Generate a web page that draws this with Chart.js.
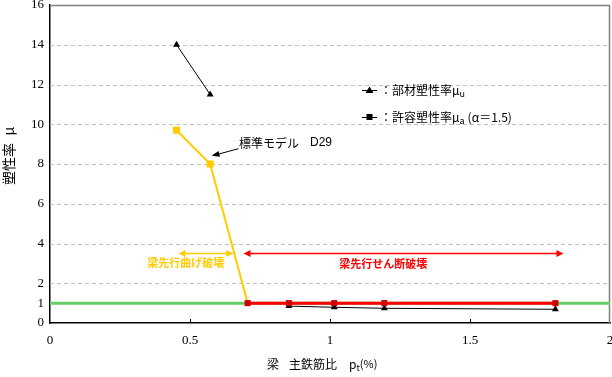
<!DOCTYPE html>
<html><head><meta charset="utf-8">
<script src="https://cdn.jsdelivr.net/npm/chart.js@4/dist/chart.umd.min.js"></script>
<style>html,body{margin:0;padding:0;background:#fff;}#c{display:block;}</style>
</head><body>
<canvas id="c" width="612" height="377"></canvas>
<script>
// ---- data ----
const pt      = [0.452, 0.572, 0.706, 0.853, 1.015, 1.194, 1.805];   // 梁 主鉄筋比 pt(%)
const muU     = [14.0, 11.5, null, 0.85, 0.79, 0.74, 0.69];          // 部材塑性率 μu
const muA     = [9.7, 8.0, 1.0, 1.0, 1.0, 1.0, 1.0];                 // 許容塑性率 μa (α=1.5)
const limitX  = [0, 2];
const limitY  = [1, 1];                                              // μ = 1 line
const xTicks  = [0, 0.5, 1, 1.5, 2];
const yTicks  = [0, 1, 2, 4, 6, 8, 10, 12, 14, 16];
const gridY   = [2, 4, 6, 8, 10, 12, 14];

const YEL = '#FFCC00', RED = '#FF0000', DRED = '#CC0000', GRN = '#66CC66';
const JP = '"Noto Sans CJK JP", sans-serif';
const SERIF = '"Liberation Serif", serif';

const pts = (xs, ys) => xs.map((x, i) => ({x, y: ys[i]}));

const bgPlugin = {
  id: 'bg',
  beforeDatasetsDraw(chart) {
    const {ctx, chartArea: a, scales: {x, y}} = chart;
    ctx.save();
    ctx.strokeStyle = '#C0C0C0'; ctx.lineWidth = 1; ctx.setLineDash([4, 3]);
    gridY.forEach(v => {
      const py = Math.round(y.getPixelForValue(v)) + 0.5;
      ctx.beginPath(); ctx.moveTo(a.left, py); ctx.lineTo(a.right, py); ctx.stroke();
    });
    ctx.setLineDash([]);
    ctx.strokeStyle = '#808080'; ctx.lineWidth = 1.5;
    ctx.beginPath();
    ctx.moveTo(a.left, a.top + 0.5); ctx.lineTo(a.right - 0.5, a.top + 0.5); ctx.lineTo(a.right - 0.5, a.bottom);
    ctx.stroke();
    ctx.restore();
  },
  afterDatasetsDraw(chart) {
    const {ctx, chartArea: a, scales: {x, y}} = chart;
    ctx.save();
    // inward x ticks
    ctx.strokeStyle = '#000'; ctx.lineWidth = 1;
    xTicks.slice(1, -1).forEach(v => {
      const px = Math.round(x.getPixelForValue(v)) + 0.5;
      ctx.beginPath(); ctx.moveTo(px, a.bottom); ctx.lineTo(px, a.bottom - 4); ctx.stroke();
    });
    const arrowHead = (tx, ty, fx, fy, col, len, wid) => {
      const ang = Math.atan2(ty - fy, tx - fx);
      ctx.fillStyle = col;
      ctx.beginPath();
      ctx.moveTo(tx, ty);
      ctx.lineTo(tx - len * Math.cos(ang) + wid * Math.sin(ang), ty - len * Math.sin(ang) - wid * Math.cos(ang));
      ctx.lineTo(tx - len * Math.cos(ang) - wid * Math.sin(ang), ty - len * Math.sin(ang) + wid * Math.cos(ang));
      ctx.closePath(); ctx.fill();
    };
    const dblArrow = (x0, x1, yv, col) => {
      const px0 = x.getPixelForValue(x0), px1 = x.getPixelForValue(x1), py = Math.round(y.getPixelForValue(yv)) + 0.5;
      ctx.strokeStyle = col; ctx.lineWidth = 1.5;
      ctx.beginPath(); ctx.moveTo(px0 + 4, py); ctx.lineTo(px1 - 4, py); ctx.stroke();
      arrowHead(px0, py, px1, py, col, 7, 3.5);
      arrowHead(px1, py, px0, py, col, 7, 3.5);
    };
    dblArrow(0.459, 0.655, 3.5, YEL);
    dblArrow(0.691, 1.834, 3.5, RED);
    ctx.font = 'bold 11px ' + JP; ctx.textAlign = 'center'; ctx.textBaseline = 'middle';
    ctx.fillStyle = YEL; ctx.fillText('梁先行曲げ破壊', x.getPixelForValue(0.485), y.getPixelForValue(3.05));
    ctx.fillStyle = RED; ctx.fillText('梁先行せん断破壊', x.getPixelForValue(1.19), y.getPixelForValue(3.0));
    // 標準モデル annotation
    const ax0 = x.getPixelForValue(0.673), ay0 = y.getPixelForValue(8.77);
    const ax1 = x.getPixelForValue(0.577), ay1 = y.getPixelForValue(8.41);
    ctx.strokeStyle = '#000'; ctx.lineWidth = 1;
    ctx.beginPath(); ctx.moveTo(ax0, ay0); ctx.lineTo(ax1 + 6, ay1 - 1.5); ctx.stroke();
    arrowHead(ax1, ay1, ax0, ay0, '#000', 8, 3);
    ctx.fillStyle = '#000'; ctx.font = '12px ' + JP; ctx.textAlign = 'left';
    ctx.fillText('標準モデル', 239, 143);
    ctx.font = '12px "Liberation Sans", sans-serif';
    ctx.fillText('D29', 310, 143);
    // legend
    const legendRow = (yy, style, label, sub, extra) => {
      ctx.strokeStyle = '#000'; ctx.lineWidth = 1;
      ctx.beginPath(); ctx.moveTo(362, yy + 0.5); ctx.lineTo(377, yy + 0.5); ctx.stroke();
      ctx.fillStyle = '#000';
      if (style === 'tri') {
        ctx.beginPath(); ctx.moveTo(369.5, yy - 3.5); ctx.lineTo(373.5, yy + 3); ctx.lineTo(365.5, yy + 3); ctx.closePath(); ctx.fill();
      } else {
        ctx.fillRect(366.5, yy - 3, 6, 6);
      }
      ctx.font = '12px ' + JP; ctx.textAlign = 'left'; ctx.textBaseline = 'middle';
      ctx.fillText(label, 380, yy);
      let xx = 380 + ctx.measureText(label).width;
      ctx.font = '9px ' + JP;
      ctx.fillText(sub, xx, yy + 4);
      xx += ctx.measureText(sub).width + 3;
      if (extra) { ctx.font = '12px ' + JP; ctx.fillText(extra, xx, yy); }
    };
    legendRow(90, 'tri', '：部材塑性率μ', 'u', '');
    legendRow(117, 'sq', '：許容塑性率μ', 'a', '(α＝1.5)');
    // axis titles
    ctx.fillStyle = '#000';
    ctx.save();
    ctx.translate(9, 158); ctx.rotate(-Math.PI / 2);
    ctx.font = '14px ' + JP; ctx.textAlign = 'center'; ctx.textBaseline = 'middle';
    ctx.fillText('塑性率', -6, 0);
    ctx.fillText('μ', 27, 0);
    ctx.restore();
    ctx.font = '12px ' + JP; ctx.textAlign = 'left'; ctx.textBaseline = 'middle';
    let tx = 267;
    ctx.fillText('梁', tx, 364); tx = 289;
    const part1 = '主鉄筋比';
    ctx.fillText(part1, tx, 364); tx += ctx.measureText(part1).width + 12;
    ctx.fillText('p', tx, 364); tx += ctx.measureText('p').width;
    ctx.font = '9px ' + JP; ctx.fillText('t', tx, 368); tx += ctx.measureText('t').width;
    ctx.font = '11px ' + JP; ctx.fillText('(%)', tx, 364);
    ctx.restore();
  }
};

new Chart(document.getElementById('c'), {
  type: 'line',
  data: {
    datasets: [
      {
        data: pts(pt, muA), order: 0, showLine: true, spanGaps: false,
        borderColor: YEL, borderWidth: 2,
        segment: {
          borderColor: c => c.p1DataIndex <= 2 ? YEL : RED,
          borderWidth: c => c.p1DataIndex <= 2 ? 2 : 3
        },
        pointStyle: 'rect',
        pointRadius: [5, 5, 4.3, 4.3, 4.3, 4.3, 4.3],
        pointBackgroundColor: [YEL, YEL, DRED, DRED, DRED, DRED, DRED],
        pointBorderColor: [YEL, YEL, DRED, DRED, DRED, DRED, DRED],
        pointBorderWidth: 0
      },
      {
        data: pts(pt, muU), order: 1, showLine: true, spanGaps: false,
        borderColor: '#000', borderWidth: 1,
        pointStyle: 'triangle', pointRadius: 4,
        pointBackgroundColor: '#000', pointBorderColor: '#000', pointBorderWidth: 0
      },
      {
        data: pts(limitX, limitY), order: 2,
        borderColor: GRN, borderWidth: 3, pointRadius: 0
      }
    ]
  },
  options: {
    responsive: false, animation: false,
    layout: {autoPadding: false, padding: {top: 5, right: 2, left: 0, bottom: 0}},
    plugins: {legend: {display: false}, tooltip: {enabled: false}},
    scales: {
      x: {
        type: 'linear', min: 0, max: 2,
        afterBuildTicks: s => { s.ticks = xTicks.map(v => ({value: v})); },
        afterFit: s => { s.height = 54; s.paddingLeft = 0; s.paddingRight = 0; },
        grid: {display: false, drawTicks: false},
        border: {display: true, color: '#000', width: 1.5},
        ticks: {color: '#000', padding: 10, font: {family: SERIF, size: 13}, maxRotation: 0, callback: v => String(v)}
      },
      y: {
        type: 'linear', min: 0, max: 16,
        afterBuildTicks: s => { s.ticks = yTicks.map(v => ({value: v})); },
        afterFit: s => { s.width = 50; s.paddingTop = 0; s.paddingBottom = 0; },
        grid: {display: false, drawTicks: false},
        border: {display: true, color: '#000', width: 1.5},
        ticks: {color: '#000', padding: 6, font: {family: SERIF, size: 13}, autoSkip: false}
      }
    }
  },
  plugins: [bgPlugin]
});
</script>
</body></html>
